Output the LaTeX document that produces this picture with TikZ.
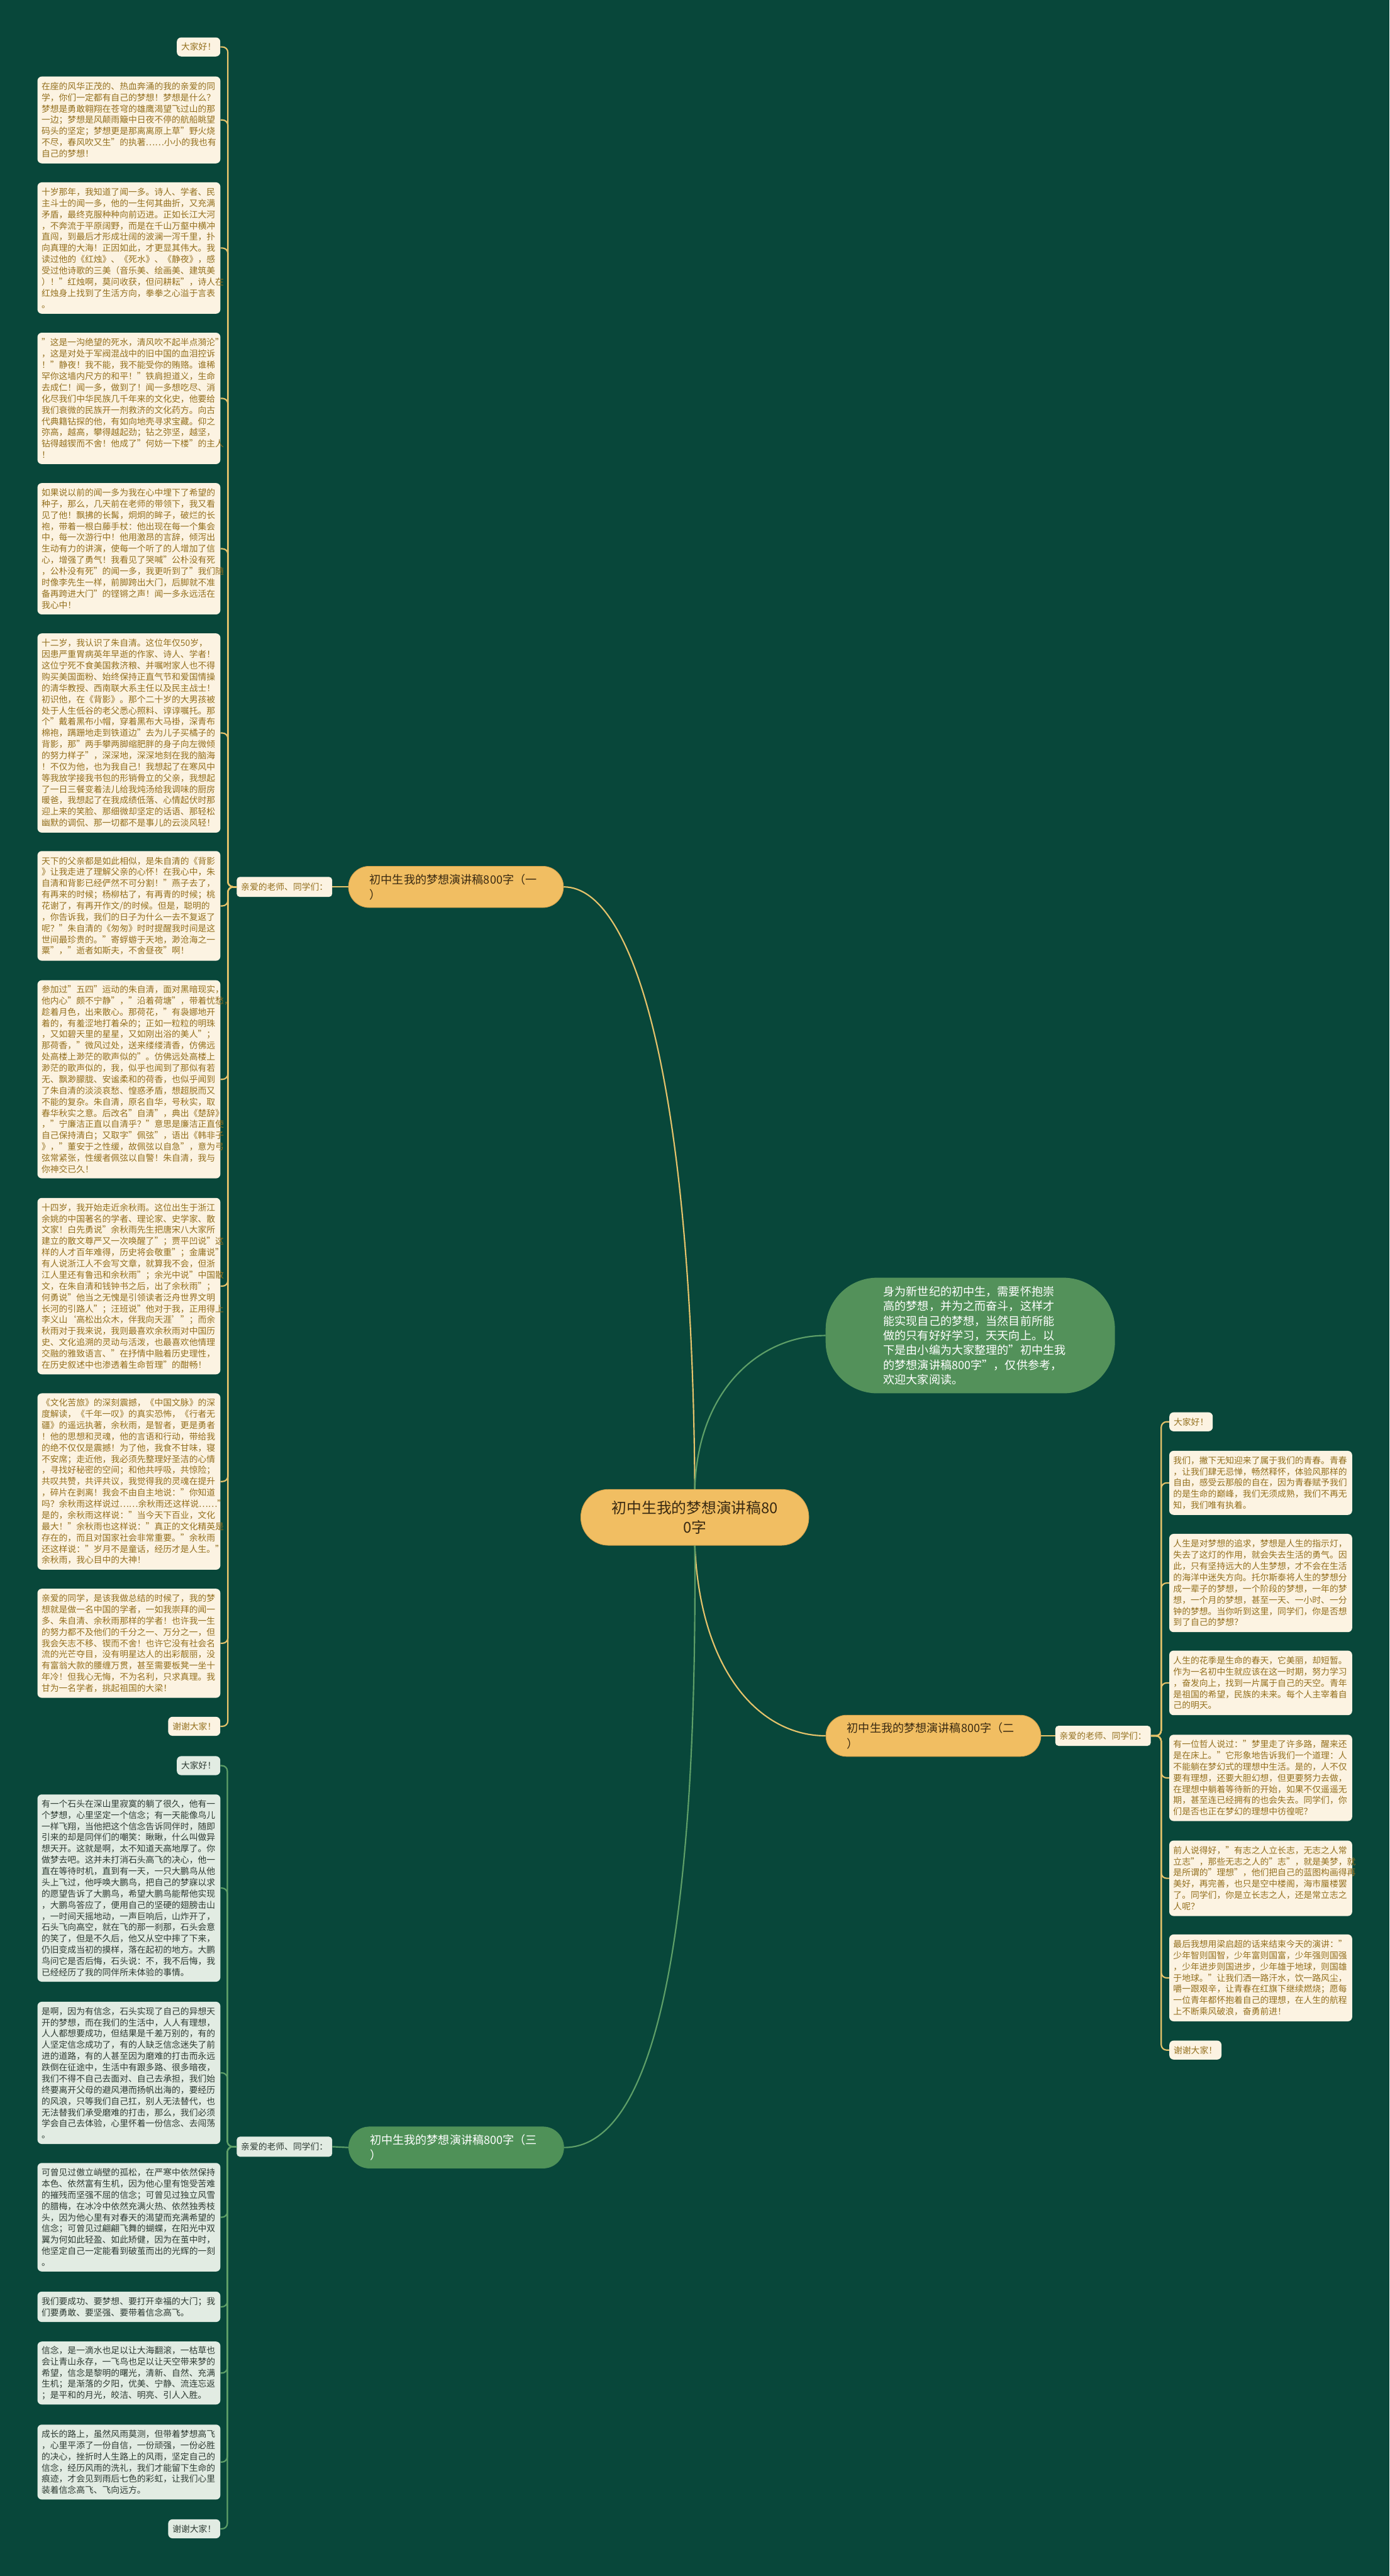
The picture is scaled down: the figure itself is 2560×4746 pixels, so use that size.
\documentclass[tikz,border=0pt]{standalone}
\usepackage{fontspec}
\setmainfont{Noto Sans CJK SC}
\definecolor{bg}{HTML}{08473A}
\definecolor{cream}{HTML}{FCF3E2}
\definecolor{gold}{HTML}{94701E}
\definecolor{lgreen}{HTML}{E2ECE3}
\definecolor{dgreen}{HTML}{2E3B33}
\definecolor{orangef}{HTML}{F1BE62}
\definecolor{orangeb}{HTML}{D6A14A}
\definecolor{pilltext}{HTML}{3A2A12}
\definecolor{pgreen}{HTML}{4F9158}
\definecolor{igreen}{HTML}{53915A}
\definecolor{yl}{HTML}{E5C36B}
\definecolor{gl}{HTML}{5E9F68}
\begin{document}
\begin{tikzpicture}[x=1pt,y=-1pt,
  leafY/.style={rectangle,rounded corners=8pt,fill=cream,text=gold,font=\fontsize{16}{20.7}\selectfont,inner xsep=7.5pt,inner ysep=3pt,text width=322pt,align=left},
  leafG/.style={leafY,fill=lgreen,text=dgreen},
  smallY/.style={rectangle,rounded corners=8pt,fill=cream,text=gold,font=\fontsize{16}{20}\selectfont,inner xsep=8pt,inner ysep=2pt,minimum height=35pt},
  smallG/.style={smallY,fill=lgreen,text=dgreen},
  labY/.style={rectangle,rounded corners=6pt,fill=cream,text=gold,font=\fontsize{16}{20}\selectfont,inner xsep=8pt,inner ysep=2pt,minimum height=37pt,minimum width=176pt},
  labG/.style={labY,fill=lgreen,text=dgreen},
  pillY/.style={rectangle,rounded corners=38pt,fill=orangef,draw=orangeb,line width=1pt,text=pilltext,font=\fontsize{21}{28}\selectfont,text width=318pt,inner xsep=39pt,inner ysep=2pt,minimum height=76pt,align=left},
  pillG/.style={pillY,fill=pgreen,draw=pgreen,text=white},
  rootnode/.style={rectangle,rounded corners=51pt,fill=orangef,draw=orangeb,line width=1pt,text=pilltext,font=\fontsize{27.5}{36}\selectfont,text width=320pt,inner xsep=50pt,inner ysep=2pt,minimum height=103pt,align=center},
  intronode/.style={rectangle,rounded corners=95pt,fill=igreen,text=white,font=\fontsize{21}{27}\selectfont,text width=320pt,inner xsep=106.5pt,inner ysep=2pt,minimum height=213pt,align=left},
  yline/.style={draw=yl,line width=2.5pt},
  gline/.style={draw=gl,line width=2.5pt}
]
\fill[bg] (0,0) rectangle (2560,4746);
\useasboundingbox (0,0) rectangle (2560,4746);

% ---------- root, intro, branches ----------
\node[rootnode] (root) at (1280,2795.5) {初中生我的梦想演讲稿80\\0字};
\node[intronode] (intro) at (1787.5,2460.5) {身为新世纪的初中生，需要怀抱崇\\高的梦想，并为之而奋斗，这样才\\能实现自己的梦想，当然目前所能\\做的只有好好学习，天天向上。以\\下是由小编为大家整理的"初中生我\\的梦想演讲稿800字"，仅供参考，\\欢迎大家阅读。};
\node[pillY] (b1) at (840,1634) {初中生我的梦想演讲稿800字（一\\）};
\node[pillY] (b2) at (1719.5,3198) {初中生我的梦想演讲稿800字（二\\）};
\node[pillG] (b3) at (840.5,3956.5) {初中生我的梦想演讲稿800字（三\\）};
\node[labY] (lab1) at (524,1634) {亲爱的老师、同学们：};
\node[labY] (lab2) at (2032,3198) {亲爱的老师、同学们：};
\node[labG] (lab3) at (524,3955) {亲爱的老师、同学们：};

% ---------- branch 1 leaves ----------
\node[smallY,anchor=east] (lh1) at (406,86.5) {大家好！};
\node[leafY,minimum height=160pt] (l1) at (237.5,221) {在座的风华正茂的、热血奔涌的我的亲爱的同\\学，你们一定都有自己的梦想！梦想是什么？\\梦想是勇敢翱翔在苍穹的雄鹰渴望飞过山的那\\一边；梦想是风颠雨簸中日夜不停的航船眺望\\码头的坚定；梦想更是那离离原上草"野火烧\\不尽，春风吹又生"的执著……小小的我也有\\自己的梦想！};
\node[leafY,minimum height=242pt] (l2) at (237.5,457) {十岁那年，我知道了闻一多。诗人、学者、民\\主斗士的闻一多，他的一生何其曲折，又充满\\矛盾，最终克服种种向前迈进。正如长江大河\\，不奔流于平原阔野，而是在千山万壑中横冲\\直闯，到最后才形成壮阔的波澜一泻千里，扑\\向真理的大海！正因如此，才更显其伟大。我\\读过他的《红烛》、《死水》、《静夜》，感\\受过他诗歌的三美（音乐美、绘画美、建筑美\\）！"红烛啊，莫问收获，但问耕耘"，诗人在\\红烛身上找到了生活方向，拳拳之心溢于言表\\。};
\node[leafY,minimum height=242pt] (l3) at (237.5,734) {"这是一沟绝望的死水，清风吹不起半点漪沦"\\，这是对处于军阀混战中的旧中国的血泪控诉\\！"静夜！我不能，我不能受你的贿赂。谁稀\\罕你这墙内尺方的和平！"铁肩担道义，生命\\去成仁！闻一多，做到了！闻一多想吃尽、消\\化尽我们中华民族几千年来的文化史，他要给\\我们衰微的民族开一剂救济的文化药方。向古\\代典籍钻探的他，有如向地壳寻求宝藏。仰之\\弥高，越高，攀得越起劲；钻之弥坚，越坚，\\钻得越锲而不舍！他成了"何妨一下楼"的主人\\！};
\node[leafY,minimum height=242pt] (l4) at (237.5,1011) {如果说以前的闻一多为我在心中埋下了希望的\\种子，那么，几天前在老师的带领下，我又看\\见了他！飘拂的长髯，炯炯的眸子，破烂的长\\袍，带着一根白藤手杖：他出现在每一个集会\\中，每一次游行中！他用激昂的言辞，倾泻出\\生动有力的讲演，使每一个听了的人增加了信\\心，增强了勇气！我看见了哭喊"公朴没有死\\，公朴没有死"的闻一多，我更听到了"我们随\\时像李先生一样，前脚跨出大门，后脚就不准\\备再跨进大门"的铿锵之声！闻一多永远活在\\我心中！};
\node[leafY,minimum height=367pt] (l5) at (237.5,1350.5) {十二岁，我认识了朱自清。这位年仅50岁，\\因患严重胃病英年早逝的作家、诗人、学者！\\这位宁死不食美国救济粮、并嘱咐家人也不得\\购买美国面粉、始终保持正直气节和爱国情操\\的清华教授、西南联大系主任以及民主战士！\\初识他，在《背影》。那个二十岁的大男孩被\\处于人生低谷的老父悉心照料、谆谆嘱托。那\\个"戴着黑布小帽，穿着黑布大马褂，深青布\\棉袍，蹒跚地走到铁道边"去为儿子买橘子的\\背影，那"两手攀两脚缩肥胖的身子向左微倾\\的努力样子"，深深地，深深地刻在我的脑海\\！不仅为他，也为我自己！我想起了在寒风中\\等我放学接我书包的形销骨立的父亲，我想起\\了一日三餐变着法儿给我炖汤给我调味的厨房\\暖爸，我想起了在我成绩低落、心情起伏时那\\迎上来的笑脸、那细微却坚定的话语、那轻松\\幽默的调侃、那一切都不是事儿的云淡风轻！};
\node[leafY,minimum height=202pt] (l6) at (237.5,1669) {天下的父亲都是如此相似，是朱自清的《背影\\》让我走进了理解父亲的心怀！在我心中，朱\\自清和背影已经俨然不可分割！"燕子去了，\\有再来的时候；杨柳枯了，有再青的时候；桃\\花谢了，有再开作文/的时候。但是，聪明的\\，你告诉我，我们的日子为什么一去不复返了\\呢？"朱自清的《匆匆》时时提醒我时间是这\\世间最珍贵的。"寄蜉蝣于天地，渺沧海之一\\粟"，"逝者如斯夫，不舍昼夜"啊！};
\node[leafY,minimum height=365pt] (l7) at (237.5,1988.5) {参加过"五四"运动的朱自清，面对黑暗现实，\\他内心"颇不宁静"，"沿着荷塘"，带着忧愁，\\趁着月色，出来散心。那荷花，"有袅娜地开\\着的，有羞涩地打着朵的；正如一粒粒的明珠\\，又如碧天里的星星，又如刚出浴的美人"；\\那荷香，"微风过处，送来缕缕清香，仿佛远\\处高楼上渺茫的歌声似的"。仿佛远处高楼上\\渺茫的歌声似的，我，似乎也闻到了那似有若\\无、飘渺朦胧、安谧柔和的荷香，也似乎闻到\\了朱自清的淡淡哀愁、惶惑矛盾，想超脱而又\\不能的复杂。朱自清，原名自华，号秋实，取\\春华秋实之意。后改名"自清"，典出《楚辞》\\，"宁廉洁正直以自清乎？"意思是廉洁正直使\\自己保持清白；又取字"佩弦"，语出《韩非子\\》，"董安于之性缓，故佩弦以自急"，意为弓\\弦常紧张，性缓者佩弦以自警！朱自清，我与\\你神交已久！};
\node[leafY,minimum height=325pt] (l8) at (237.5,2369.5) {十四岁，我开始走近余秋雨。这位出生于浙江\\余姚的中国著名的学者、理论家、史学家、散\\文家！白先勇说"余秋雨先生把唐宋八大家所\\建立的散文尊严又一次唤醒了"；贾平凹说"这\\样的人才百年难得，历史将会敬重"；金庸说"\\有人说浙江人不会写文章，就算我不会，但浙\\江人里还有鲁迅和余秋雨"；余光中说"中国散\\文，在朱自清和钱钟书之后，出了余秋雨"；\\何勇说"他当之无愧是引领读者泛舟世界文明\\长河的引路人"；汪班说"他对于我，正用得上\\李义山‘高松出众木，伴我向天涯’"；而余\\秋雨对于我来说，我则最喜欢余秋雨对中国历\\史、文化追溯的灵动与活泼，也最喜欢他情理\\交融的雅致语言、"在抒情中融着历史理性，\\在历史叙述中也渗透着生命哲理"的酣畅！};
\node[leafY,minimum height=325pt] (l9) at (237.5,2729.5) {《文化苦旅》的深刻震撼，《中国文脉》的深\\度解读，《千年一叹》的真实恐怖，《行者无\\疆》的遥远执著，余秋雨，是智者，更是勇者\\！他的思想和灵魂，他的言语和行动，带给我\\的绝不仅仅是震撼！为了他，我食不甘味，寝\\不安席；走近他，我必须先整理好圣洁的心情\\，寻找好秘密的空间；和他共呼吸，共惊险；\\共叹共赞，共评共议，我觉得我的灵魂在提升\\，碎片在剥离！我会不由自主地说："你知道\\吗？余秋雨这样说过……余秋雨还这样说……"\\是的，余秋雨这样说："当今天下百业，文化\\最大！"余秋雨也这样说："真正的文化精英是\\存在的，而且对国家社会非常重要。"余秋雨\\还这样说："岁月不是童话，经历才是人生。"\\余秋雨，我心目中的大神！};
\node[leafY,minimum height=201pt] (l10) at (237.5,3027.5) {亲爱的同学，是该我做总结的时候了，我的梦\\想就是做一名中国的学者，一如我崇拜的闻一\\多、朱自清、余秋雨那样的学者！也许我一生\\的努力都不及他们的千分之一、万分之一，但\\我会矢志不移、锲而不舍！也许它没有社会名\\流的光芒夺目，没有明星达人的出彩靓丽，没\\有富翁大款的腰缠万贯，甚至需要板凳一坐十\\年冷！但我心无悔，不为名利，只求真理。我\\甘为一名学者，挑起祖国的大梁！};
\node[smallY,anchor=east] (lt1) at (406,3180.5) {谢谢大家！};

% ---------- branch 2 leaves ----------
\node[smallY,anchor=west] (rh) at (2154,2619.5) {大家好！};
\node[leafY,minimum height=118pt] (r1) at (2322.5,2732) {我们，撇下无知迎来了属于我们的青春。青春\\，让我们肆无忌惮，畅然释怀，体验风那样的\\自由，感受云那般的自在，因为青春赋予我们\\的是生命的巅峰，我们无须成熟，我们不再无\\知，我们唯有执着。};
\node[leafY,minimum height=181pt] (r2) at (2322.5,2916.5) {人生是对梦想的追求，梦想是人生的指示灯，\\失去了这灯的作用，就会失去生活的勇气。因\\此，只有坚持远大的人生梦想，才不会在生活\\的海洋中迷失方向。托尔斯泰将人生的梦想分\\成一辈子的梦想，一个阶段的梦想，一年的梦\\想，一个月的梦想，甚至一天、一小时、一分\\钟的梦想。当你听到这里，同学们，你是否想\\到了自己的梦想？};
\node[leafY,minimum height=119pt] (r3) at (2322.5,3100.5) {人生的花季是生命的春天，它美丽，却短暂。\\作为一名初中生就应该在这一时期，努力学习\\，奋发向上，找到一片属于自己的天空。青年\\是祖国的希望，民族的未来。每个人主宰着自\\己的明天。};
\node[leafY,minimum height=159pt] (r4) at (2322.5,3275.5) {有一位哲人说过："梦里走了许多路，醒来还\\是在床上。"它形象地告诉我们一个道理：人\\不能躺在梦幻式的理想中生活。是的，人不仅\\要有理想，还要大胆幻想，但更要努力去做，\\在理想中躺着等待新的开始，如果不仅遥遥无\\期，甚至连已经拥有的也会失去。同学们，你\\们是否也正在梦幻的理想中彷徨呢？};
\node[leafY,minimum height=139pt] (r5) at (2322.5,3460.5) {前人说得好，"有志之人立长志，无志之人常\\立志"，那些无志之人的"志"，就是美梦，就\\是所谓的"理想"，他们把自己的蓝图构画得再\\美好，再完善，也只是空中楼阁，海市蜃楼罢\\了。同学们，你是立长志之人，还是常立志之\\人呢？};
\node[leafY,minimum height=160pt] (r6) at (2322.5,3644) {最后我想用梁启超的话来结束今天的演讲："\\少年智则国智，少年富则国富，少年强则国强\\，少年进步则国进步，少年雄于地球，则国雄\\于地球。"让我们洒一路汗水，饮一路风尘，\\嚼一跟艰辛，让青春在红旗下继续燃烧；愿每\\一位青年都怀抱着自己的理想，在人生的航程\\上不断乘风破浪，奋勇前进！};
\node[smallY,anchor=west] (rt) at (2154,3777) {谢谢大家！};

% ---------- branch 3 leaves ----------
\node[smallG,anchor=east] (gh) at (406,3253) {大家好！};
\node[leafG,minimum height=345pt] (g1) at (237.5,3478.5) {有一个石头在深山里寂寞的躺了很久，他有一\\个梦想，心里坚定一个信念；有一天能像鸟儿\\一样飞翔，当他把这个信念告诉同伴时，随即\\引来的却是同伴们的嘲笑：瞅瞅，什么叫做异\\想天开。这就是啊，太不知道天高地厚了。你\\做梦去吧。这并未打消石头高飞的决心，他一\\直在等待时机，直到有一天，一只大鹏鸟从他\\头上飞过，他呼唤大鹏鸟，把自己的梦寐以求\\的愿望告诉了大鹏鸟，希望大鹏鸟能帮他实现\\，大鹏鸟答应了，便用自己的坚硬的翅膀击山\\，一时间天摇地动，一声巨响后，山炸开了，\\石头飞向高空，就在飞的那一刹那，石头会意\\的笑了，但是不久后，他又从空中摔了下来，\\仍旧变成当初的摸样，落在起初的地方。大鹏\\鸟问它是否后悔，石头说：不，我不后悔，我\\已经经历了我的同伴所未体验的事情。};
\node[leafG,minimum height=262pt] (g2) at (237.5,3819) {是啊，因为有信念，石头实现了自己的异想天\\开的梦想，而在我们的生活中，人人有理想，\\人人都想要成功，但结果是千差万别的，有的\\人坚定信念成功了，有的人缺乏信念迷失了前\\进的道路，有的人甚至因为磨难的打击而永远\\跌倒在征途中，生活中有跟多路、很多暗夜，\\我们不得不自己去面对、自己去承担，我们始\\终要离开父母的避风港而扬帆出海的，要经历\\的风浪，只等我们自己扛，别人无法替代，也\\无法替我们承受磨难的打击，那么，我们必须\\学会自己去体验，心里怀着一份信念、去闯荡\\。};
\node[leafG,minimum height=200pt] (g3) at (237.5,4085) {可曾见过傲立峭壁的孤松，在严寒中依然保持\\本色、依然富有生机，因为他心里有饱受苦难\\的摧残而坚强不屈的信念；可曾见过独立风雪\\的腊梅，在冰冷中依然充满火热、依然独秀枝\\头，因为他心里有对春天的渴望而充满希望的\\信念；可曾见过翩翩飞舞的蝴蝶，在阳光中双\\翼为何如此轻盈、如此矫健，因为在茧中时，\\他坚定自己一定能看到破茧而出的光辉的一刻\\。};
\node[leafG,minimum height=56pt] (g4) at (237.5,4250) {我们要成功、要梦想、要打开幸福的大门；我\\们要勇敢、要坚强、要带着信念高飞。};
\node[leafG,minimum height=116pt] (g5) at (237.5,4372) {信念，是一滴水也足以让大海翻滚，一枯草也\\会让青山永存，一飞鸟也足以让天空带来梦的\\希望，信念是黎明的曙光，清新、自然、充满\\生机；是渐落的夕阳，优美、宁静、流连忘返\\；是平和的月光，皎洁、明亮、引人入胜。};
\node[leafG,minimum height=138pt] (g6) at (237.5,4536) {成长的路上，虽然风雨莫测，但带着梦想高飞\\，心里平添了一份自信，一份顽强，一份必胜\\的决心，挫折时人生路上的风雨，坚定自己的\\信念，经历风雨的洗礼，我们才能留下生命的\\痕迹，才会见到雨后七色的彩虹，让我们心里\\装着信念高飞、飞向远方。};
\node[smallG,anchor=east] (gt) at (406,4659) {谢谢大家！};

% ---------- connectors ----------
\draw[yline] (root.north) .. controls (1275,2000) and (1170,1634) .. (b1.east);
\draw[gline] (root.north) .. controls (1285,2560) and (1400,2460.5) .. (intro.west);
\draw[yline] (root.south) .. controls (1290,3080) and (1400,3198) .. (b2.west);
\draw[gline] (root.south) .. controls (1285,3600) and (1200,3956.5) .. (b3.east);
\draw[yline] (b1.west) -- (lab1.east);
\draw[yline] (b2.east) -- (lab2.west);
\draw[gline] (b3.west) -- (lab3.east);
\foreach \n in {lh1,l1,l2,l3,l4,l5,l6,l7,l8,l9,l10,lt1}
  \draw[yline,rounded corners=10pt] (lab1.west) -- ++(-16,0) |- (\n.east);
\foreach \n in {rh,r1,r2,r3,r4,r5,r6,rt}
  \draw[yline,rounded corners=10pt] (lab2.east) -- ++(19,0) |- (\n.west);
\foreach \n in {gh,g1,g2,g3,g4,g5,g6,gt}
  \draw[gline,rounded corners=10pt] (lab3.west) -- ++(-17,0) |- (\n.east);
\end{tikzpicture}
\end{document}
